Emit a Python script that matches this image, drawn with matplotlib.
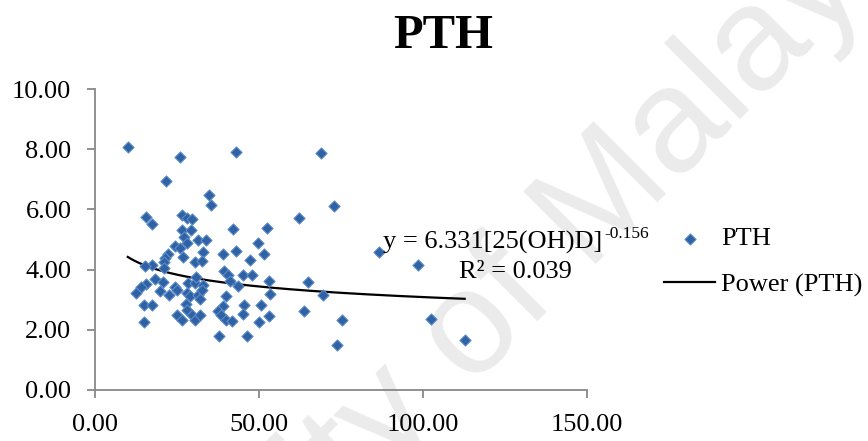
import numpy as np
import matplotlib
matplotlib.use("Agg")
import matplotlib.pyplot as plt

# 25(OH)D (x) vs PTH (y)
pth_x = [10.0, 25.8, 43.1, 68.8, 21.6, 34.7, 35.5, 72.8, 62.2, 86.7, 98.5, 64.9,
         69.6, 63.7, 75.3, 102.4, 73.8, 112.7,
         15.6, 17.3, 26.6, 28.0, 29.5, 26.5, 29.3, 27.0, 28.0, 31.5, 33.8, 24.4,
         25.9, 22.4, 21.4, 20.9, 26.8, 33.0, 30.5, 32.5, 17.5, 15.3,
         42.1, 52.4, 49.7, 39.1, 42.9, 51.5, 47.2,
         20.9, 18.3, 20.7, 15.5, 14.0, 12.6, 19.9, 22.7, 24.4, 25.1, 28.4, 30.5,
         33.0, 28.0, 29.0, 31.5, 32.0, 15.0, 17.5, 27.7, 24.9, 26.4, 28.0, 29.5,
         30.5, 32.0, 14.8, 30.8,
         39.3, 40.6, 41.1, 45.1, 48.0, 53.0, 32.5, 43.6, 39.9, 53.5, 38.9, 37.6,
         38.3, 45.4, 50.7, 45.1, 52.9, 39.9, 41.8, 50.0, 37.8, 46.2]
pth_y = [8.06, 7.75, 7.90, 7.89, 6.93, 6.47, 6.14, 6.12, 5.72, 4.59, 4.14, 3.58,
         3.17, 2.64, 2.32, 2.36, 1.50, 1.66,
         5.76, 5.52, 5.80, 5.72, 5.69, 5.31, 5.30, 5.08, 4.89, 4.98, 4.98, 4.80,
         4.72, 4.52, 4.39, 4.24, 4.41, 4.60, 4.24, 4.30, 4.16, 4.11,
         5.36, 5.38, 4.89, 4.53, 4.62, 4.53, 4.33,
         4.06, 3.70, 3.59, 3.52, 3.42, 3.22, 3.28, 3.17, 3.42, 3.31, 3.56, 3.56,
         3.48, 3.22, 3.11, 3.17, 3.03, 2.81, 2.81, 2.86, 2.50, 2.33, 2.67, 2.50,
         2.33, 2.50, 2.26, 3.76,
         3.97, 3.83, 3.63, 3.83, 3.83, 3.63, 3.33, 3.44, 3.11, 3.19, 2.78, 2.61,
         2.50, 2.81, 2.81, 2.52, 2.47, 2.33, 2.28, 2.26, 1.78, 1.81]

# power trendline shown on the chart
coef_a = 6.331
coef_b = -0.156

serif = ["Liberation Serif", "DejaVu Serif"]
W, H = 868, 441

fig = plt.figure(figsize=(W / 100, H / 100), dpi=100)

def fx(px):
    return px / W

def fy(py):
    return 1 - py / H

# watermark
wm = fig.text(fx(-20), fy(880), "University of Malaya", family="Liberation Sans",
              fontsize=107, color="#ebebeb", rotation=45, rotation_mode="anchor",
              ha="left", va="baseline", zorder=-1)
wm.set_clip_on(True)

ax = fig.add_axes([fx(95), fy(390), (587 - 95) / W, (390 - 89) / H])
ax.patch.set_alpha(0)

ax.scatter(pth_x, pth_y, marker="D", s=32, facecolor="#2f61a3",
           edgecolor="#5a8cca", linewidth=0.8, label="PTH", zorder=3)

tx = np.linspace(min(pth_x), max(pth_x), 200)
ax.plot(tx, coef_a * tx ** coef_b, color="black", lw=1.6, label="Power (PTH)", zorder=2)

ax.set_xlim(0, 150)
ax.set_ylim(0, 10)
ax.set_xticks([0, 50, 100, 150])
ax.set_yticks([0, 2, 4, 6, 8, 10])
ax.set_xticklabels([f"{v:.2f}" for v in [0, 50, 100, 150]])
ax.set_yticklabels([f"{v:.2f}" for v in [0, 2, 4, 6, 8, 10]])
for lab in ax.get_xticklabels() + ax.get_yticklabels():
    lab.set_family(serif)
    lab.set_fontsize(19)

for s in ["top", "right"]:
    ax.spines[s].set_visible(False)
for s in ["left", "bottom"]:
    ax.spines[s].set_color("#888888")
    ax.spines[s].set_linewidth(1.3)
ax.tick_params(direction="out", length=6, width=1.3, color="#888888")
ax.tick_params(axis="x", pad=11)
ax.tick_params(axis="y", pad=11)

fig.text(fx(443), fy(48), "PTH", family=serif, fontsize=35, fontweight="bold",
         ha="center", va="baseline")

# trendline label
fig.text(fx(383), fy(249), "y = 6.331[25(OH)D]", family=serif, fontsize=19,
         ha="left", va="baseline")
fig.text(fx(604), fy(238), "-0.156", family=serif, fontsize=12.5,
         ha="left", va="baseline")
fig.text(fx(459), fy(278), "R² = 0.039", family=serif, fontsize=19,
         ha="left", va="baseline")

leg = ax.legend(loc="upper left", bbox_to_anchor=(fx(664), fy(227)),
                bbox_transform=fig.transFigure, frameon=False,
                prop={"family": serif, "size": 19}, handlelength=1.95,
                handletextpad=0.2, labelspacing=0.85, borderpad=0,
                borderaxespad=0)

fig.savefig("out.png", dpi=100)
